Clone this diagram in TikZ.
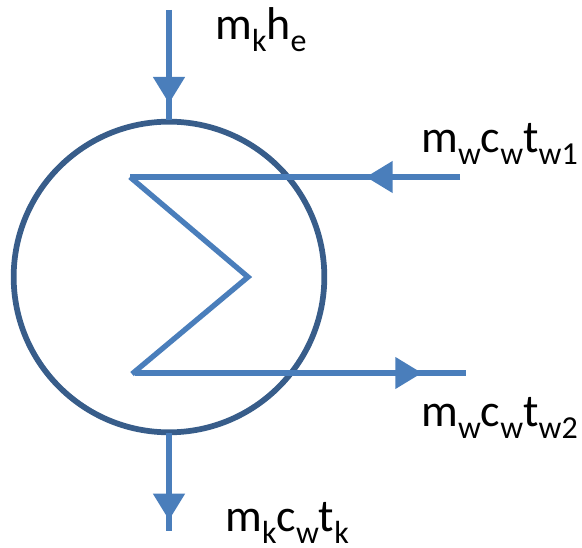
\documentclass[tikz,border=0pt]{standalone}
\usepackage{fontspec}
\setmainfont{Carlito}
\usetikzlibrary{arrows.meta, decorations.markings}
\definecolor{flowblue}{HTML}{4A7EBB}
\definecolor{shellblue}{HTML}{385D8A}
\newcommand{\subtxt}[1]{\raisebox{-0.26em}{\fontsize{24}{24}\selectfont #1}}
\tikzset{
  flow/.style={draw=flowblue, line width=4.6pt},
  coil/.style={draw=flowblue, line width=4pt},
  flowtip/.style={postaction={decorate}, decoration={markings,
    mark=at position #1 with {\arrow[flowblue]{Triangle[length=20pt, width=23pt]}}}},
  lab/.style={anchor=base west, inner sep=0pt, font=\fontsize{34.5}{34.5}\selectfont}
}
\begin{document}
\begin{tikzpicture}[x=0.75pt, y=-0.75pt]
  \useasboundingbox (0,0) rectangle (582,548);
  % vessel
  \node[circle, draw=shellblue, line width=4.3pt, minimum size=233pt, inner sep=0pt, outer sep=0pt] (vessel) at (169,277) {};
  % ends of the lines
  \coordinate (feedtop) at (169,10);
  \coordinate (feedbase) at (169,120);
  \coordinate (drainbase) at (169,433);
  \coordinate (drainend) at (169,531);
  \coordinate (coilin) at (460,177);
  \coordinate (coilA) at (130,177);
  \coordinate (coilB) at (248,277);
  \coordinate (coilC) at (132,374);
  \coordinate (coilD) at (135,373);
  \coordinate (coilout) at (466,373);
  % flows
  \draw[flow, flowtip=0.85] (feedtop) -- (feedbase);
  \draw[flow, flowtip=0.89] (drainbase) -- (drainend);
  \draw[coil] (coilA) -- (coilB) -- (coilC);
  \draw[coil, flowtip=0.285] (coilin) -- (coilA);
  \draw[coil, flowtip=0.867] (coilD) -- (coilout);
  % labels
  \node[lab] (feedlab) at (215,40) {m\subtxt{k}h\subtxt{e}};
  \node[lab] (inlab) at (421,153) {m\subtxt{w}c\subtxt{w}t\subtxt{w1}};
  \node[lab] (outlab) at (421,427) {m\subtxt{w}c\subtxt{w}t\subtxt{w2}};
  \node[lab] (drainlab) at (225,532) {m\subtxt{k}c\subtxt{w}t\subtxt{k}};
\end{tikzpicture}
\end{document}
